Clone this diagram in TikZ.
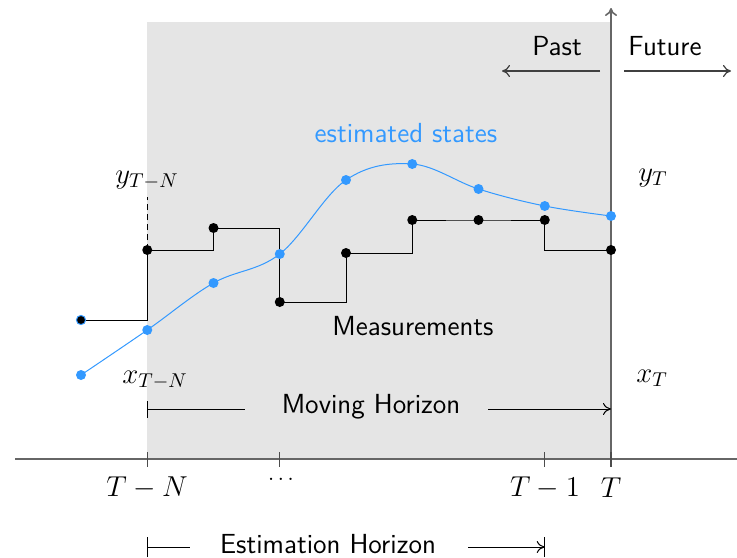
\documentclass[tikz,border=0pt]{standalone}
\usetikzlibrary{arrows.meta}
\definecolor{estblue}{RGB}{51,153,255}
\begin{document}
\begin{tikzpicture}[x=0.5pt,y=-0.5pt,
  axis/.style={draw=black!60, line width=0.8pt},
  harrow/.style={draw=black!75, line width=0.6pt},
  mdot/.style={circle, fill=black, inner sep=0pt, minimum size=5pt},
  sdot/.style={circle, fill=estblue, inner sep=0pt, minimum size=5pt},
  meas/.style={draw=black, line width=0.5pt},
  est/.style={draw=estblue, line width=0.5pt},
  sflab/.style={font=\sffamily\fontsize{13.8}{16}\selectfont},
  mlab/.style={font=\fontsize{14}{16}\selectfont},
  tick/.style={draw=black!70, line width=0.6pt}]
\useasboundingbox (0,0) rectangle (737,557);
% shaded estimation window
\fill[gray!20] (147.25,22) rectangle (611,459);
% axes
\coordinate (axL) at (15,459);
\coordinate (axR) at (737,459);
\coordinate (axB) at (611,459);
\coordinate (axT) at (611,8);
\draw[axis] (axL) -- (axR);
\draw[axis,-{To[length=4pt,width=6pt]}] (axB) -- (axT);
% ticks
\foreach \n/\xx in {tA/147.25, tB/279.75, tC/544.75, tD/611}{
  \coordinate (\n u) at (\xx,452);
  \coordinate (\n d) at (\xx,467);
  \draw[tick] (\n u) -- (\n d);
}
% tick labels
\node[mlab] (lTN) at (147,488) {$T-N$};
\node[font=\fontsize{11}{12}\selectfont] (ldots) at (281,479) {$\ldots$};
\node[mlab] (lT1) at (545,488) {$T-1$};
\node[mlab] (lT) at (611,488) {$T$};
% measurement points
\coordinate (m0) at (81,320);
\coordinate (m1) at (147.25,250);
\coordinate (m2) at (213.5,228);
\coordinate (m3) at (279.75,302);
\coordinate (m4) at (346,253);
\coordinate (m5) at (412.25,220);
\coordinate (m6) at (478.5,220);
\coordinate (m7) at (544.75,220);
\coordinate (m8) at (611,250);
\draw[meas] (m0) -| (m1) -| (m2) -| (m3) -| (m4) -| (m5) -- (m6) -- (m7) |- (m8);
% state points
\coordinate (s0) at (81,375);
\coordinate (s1) at (147.25,330);
\coordinate (s2) at (213.5,283);
\coordinate (s3) at (279.75,254);
\coordinate (s4) at (346,180);
\coordinate (s5) at (412.25,164);
\coordinate (s6) at (478.5,189);
\coordinate (s7) at (544.75,206);
\coordinate (s8) at (611,216);
\draw[est] plot[smooth, tension=0.6] coordinates {(s0) (s1) (s2) (s3) (s4) (s5) (s6) (s7) (s8)};
\foreach \i in {1,...,8}{ \node[sdot] at (s\i) {}; }
\node[sdot] (s0d) at (s0) {};
\foreach \i in {1,...,8}{ \node[mdot] at (m\i) {}; }
\node[circle, fill=black, draw=estblue, line width=0.5pt, inner sep=0pt, minimum size=4.6pt] (m0d) at (m0) {};
% labels
\node[mlab] (yTN) at (147,180) {$y_{T-N}$};
\coordinate (dashtop) at (147.25,197);
\draw[meas, dashed, dash pattern=on 3pt off 2pt] (m1) -- (dashtop);
\node[mlab] (xTN) at (155,380) {$x_{T-N}$};
\node[mlab] (yT) at (653,178) {$y_T$};
\node[mlab] (xT) at (652,378) {$x_T$};
\node[sflab, text=estblue] (estlab) at (406,133) {estimated states};
\node[sflab] (measlab) at (413,326) {Measurements};
% past / future
\node[sflab] (past) at (557,46) {Past};
\node[sflab] (future) at (665,46) {Future};
\coordinate (pastA) at (600,71);
\coordinate (pastB) at (502,71);
\coordinate (futA) at (624,71);
\coordinate (futB) at (731,71);
\draw[harrow, -{To[length=4pt,width=6pt]}] (pastA) -- (pastB);
\draw[harrow, -{To[length=4pt,width=6pt]}] (futA) -- (futB);
% moving horizon
\node[sflab] (mh) at (371,407) {Moving Horizon};
\coordinate (mhL) at (147.25,409);
\coordinate (mhLe) at (245,409);
\coordinate (mhRs) at (488,409);
\coordinate (mhR) at (611,409);
\draw[meas, {Bar[width=8.5pt]}-] (mhL) -- (mhLe);
\draw[meas, -{To[length=4pt,width=6pt]}] (mhRs) -- (mhR);
% estimation horizon
\node[sflab] (eh) at (328,544) {Estimation Horizon};
\coordinate (ehL) at (147.25,547);
\coordinate (ehLe) at (190,547);
\coordinate (ehRs) at (468,547);
\coordinate (ehR) at (544.75,547);
\coordinate (ehRu) at (544.75,537);
\coordinate (ehRd) at (544.75,557);
\draw[meas, {Bar[width=10pt]}-] (ehL) -- (ehLe);
\draw[meas, -{To[length=4pt,width=6pt]}] (ehRs) -- (ehR);
\draw[meas] (ehRu) -- (ehRd);
\end{tikzpicture}
\end{document}
